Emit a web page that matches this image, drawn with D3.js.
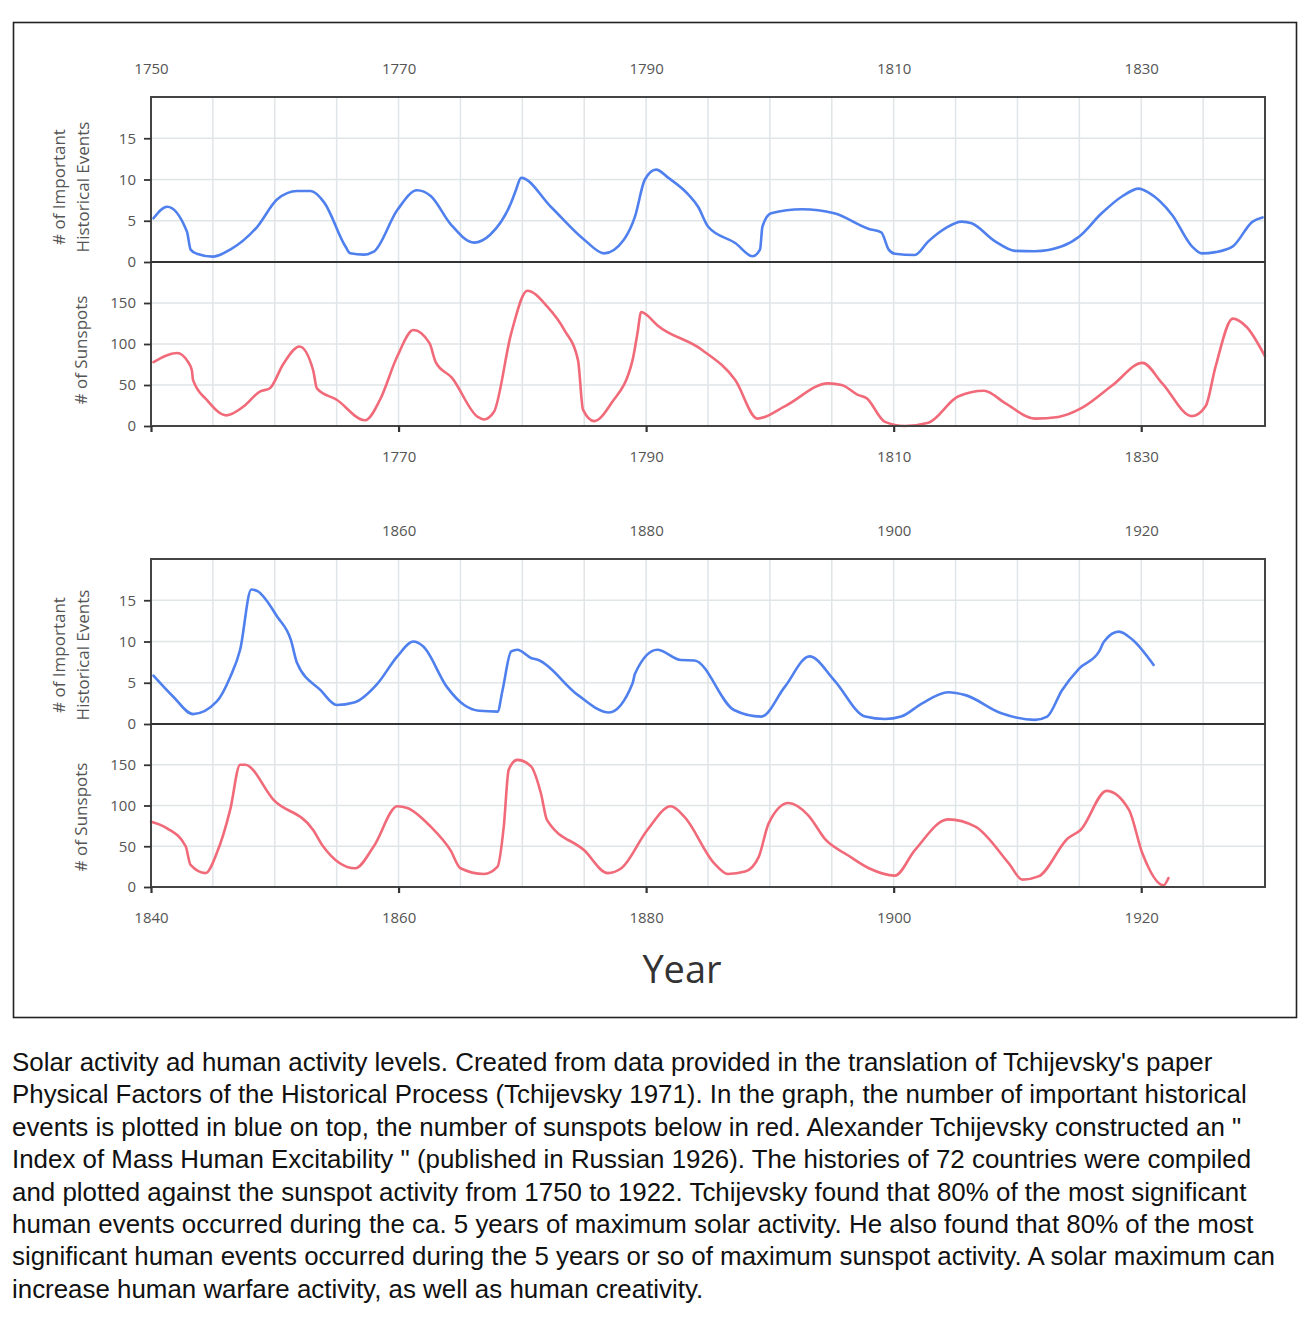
<!DOCTYPE html>
<html>
<head>
<meta charset="utf-8">
<script src="https://cdn.jsdelivr.net/npm/d3@7"></script>
<style>
  html, body { margin: 0; padding: 0; background: #fff; }
  svg { display: block; }
</style>
</head>
<body>
<svg id="chart" width="1308" height="1320"></svg>
<script>
// ---------------- DATA ----------------
// Panel 1 (1750–1840)
const events1Years = [1750.2, 1751.3, 1752.9, 1753.2, 1753.7, 1755, 1756.4, 1758.6, 1760.2, 1761.8, 1762.9, 1764, 1765.7, 1766.1, 1767.2, 1768, 1769.9, 1771.5, 1772.6, 1774.2, 1776.1, 1777.4, 1779.1, 1779.5, 1779.9, 1782.3, 1785, 1786.6, 1788.2, 1789.1, 1789.9, 1790.8, 1791.8, 1793.4, 1794.2, 1795, 1797.2, 1798.6, 1799.2, 1799.4, 1800.1, 1802.6, 1805.2, 1808, 1809, 1809.6, 1810.1, 1811.7, 1812.8, 1814.2, 1815.5, 1816.3, 1818.2, 1819.8, 1821.4, 1823.6, 1825, 1826.8, 1828.5, 1829.8, 1830.6, 1832.5, 1834.1, 1834.9, 1836, 1837.4, 1839, 1839.8];
const events1Values = [5.3, 6.7, 3.7, 1.5, 1.0, 0.65, 1.5, 4.3, 7.6, 8.6, 8.6, 7.2, 1.9, 1.05, 0.9, 1.25, 6.3, 8.7, 8.0, 4.6, 2.35, 3.3, 7.2, 8.8, 10.2, 6.7, 2.7, 1.05, 2.7, 5.5, 10, 11.2, 10.2, 8.2, 6.7, 4.3, 2.3, 0.7, 1.5, 4.3, 5.9, 6.4, 5.9, 4.0, 3.6, 1.5, 1.0, 0.85, 2.5, 4.1, 4.9, 4.7, 2.5, 1.35, 1.3, 1.9, 3.1, 5.9, 8.0, 8.9, 8.4, 5.7, 1.9, 1.05, 1.2, 1.9, 4.9, 5.4];

const sunspots1Years = [1750.2, 1752.1, 1753, 1753.3, 1753.4, 1754.5, 1756.1, 1757.5, 1758.8, 1759.6, 1760.7, 1762, 1763.1, 1763.4, 1765, 1767.3, 1768.5, 1769.9, 1771.2, 1772.5, 1773, 1774.3, 1776.4, 1776.9, 1777.7, 1779.1, 1780.4, 1782, 1783.4, 1784.5, 1784.9, 1785.8, 1787.2, 1788.9, 1789.3, 1789.6, 1789.9, 1790.9, 1794.5, 1797.2, 1799, 1801.2, 1804.7, 1805.8, 1807.1, 1807.8, 1809.3, 1810.9, 1812.8, 1815.2, 1817.3, 1819, 1821.4, 1823.3, 1825.2, 1827.7, 1830.1, 1831.7, 1834.1, 1835.2, 1836, 1837.4, 1838.5, 1840];
const sunspots1Values = [78, 89, 78, 68, 56, 32, 13, 24, 42, 46, 76, 97, 68, 46, 32, 7, 32, 85, 117, 101, 78, 59, 11, 8, 17, 113, 165, 146, 117, 80, 20, 6, 28, 80, 113, 139, 137, 123, 93, 56, 9, 24, 52, 50, 38, 34, 5, 0, 4, 36, 43, 28, 9, 11, 22, 50, 77, 52, 12, 24, 72, 131, 121, 85];

// Panel 2 (1840–1930)
const events2Years = [1840.2, 1841.8, 1843.4, 1845.3, 1846.4, 1847.2, 1848.1, 1848.6, 1850.2, 1851.3, 1851.8, 1853.7, 1855, 1856.4, 1858.3, 1859.9, 1861.2, 1862, 1863.9, 1865.3, 1866.5, 1868, 1868.4, 1869.1, 1869.6, 1870.7, 1871.3, 1874.5, 1877, 1878.9, 1879.1, 1880.9, 1882.8, 1883.9, 1887.1, 1889.3, 1891.2, 1893.2, 1895.2, 1897.7, 1899.3, 1900.6, 1902.3, 1904.4, 1905.8, 1908.7, 1911.4, 1912.4, 1913.6, 1915, 1916.6, 1917, 1918.2, 1919.3, 1921];
const events2Values = [5.85, 3.3, 1.2, 2.7, 5.7, 9, 16.3, 16.1, 13, 10.2, 7.4, 4.1, 2.3, 2.6, 4.9, 8.2, 10, 9.4, 4.5, 2.3, 1.6, 1.5, 4.1, 8.8, 9, 8, 7.75, 3.5, 1.4, 4.9, 6.1, 9, 7.75, 7.7, 1.7, 0.9, 4.5, 8.2, 5.3, 0.9, 0.6, 0.9, 2.5, 3.85, 3.5, 1.3, 0.5, 0.9, 4.1, 6.75, 8.8, 10, 11.2, 10.2, 7.15];

const sunspots2Years = [1840, 1841.3, 1842.8, 1843.2, 1844.4, 1845.3, 1846.4, 1847.2, 1847.6, 1849.9, 1853.1, 1853.9, 1856.5, 1858, 1859.9, 1860.7, 1862.6, 1864.2, 1865, 1866.9, 1868, 1868.5, 1868.9, 1869.6, 1870.7, 1871.5, 1872, 1875, 1876.9, 1878, 1880.1, 1882, 1883.1, 1885.5, 1886.6, 1888, 1889.1, 1889.9, 1891.5, 1893.1, 1894.5, 1896.3, 1898, 1900.1, 1901.7, 1904.4, 1906.6, 1909.3, 1910.4, 1911.7, 1914.1, 1915.1, 1917.2, 1919, 1920.1, 1921.8, 1922.2];
const sunspots2Values = [80, 72, 50, 27, 17, 41, 95, 150, 150, 107, 70, 50, 23, 50, 99, 97, 74, 45, 23, 16, 25, 74, 144, 156, 148, 115, 82, 45, 17, 23, 70, 99, 86, 29, 16, 19, 37, 78, 103, 88, 58, 39, 23, 14, 45, 83, 74, 29, 9, 13, 60, 70, 118, 95, 41, 2, 11];

// Tick labels
const eventTicks = [0, 5, 10, 15];
const sunspotTicks = [0, 50, 100, 150];
const panel1TopLabels = [1750, 1770, 1790, 1810, 1830];
const panel1BottomLabels = [1770, 1790, 1810, 1830];
const panel1BottomTicks = [1750, 1770, 1790, 1810, 1830];
const panel2TopLabels = [1860, 1880, 1900, 1920];
const panel2BottomLabels = [1840, 1860, 1880, 1900, 1920];

const xTitle = "Year";
const eventsTitle = ["# of Important", "Historical Events"];
const sunspotsTitle = "# of Sunspots";

const captionLines = [
  "Solar activity ad human activity levels. Created from data provided in the translation of Tchijevsky's paper",
  "Physical Factors of the Historical Process (Tchijevsky 1971). In the graph, the number of important historical",
  "events is plotted in blue on top, the number of sunspots below in red. Alexander Tchijevsky constructed an \"",
  "Index of Mass Human Excitability \" (published in Russian 1926). The histories of 72 countries were compiled",
  "and plotted against the sunspot activity from 1750 to 1922. Tchijevsky found that 80% of the most significant",
  "human events occurred during the ca. 5 years of maximum solar activity. He also found that 80% of the most",
  "significant human events occurred during the 5 years or so of maximum sunspot activity. A solar maximum can",
  "increase human warfare activity, as well as human creativity."
];

// ---------------- DRAW ----------------
const svg = d3.select("#chart");
const FONT = "'Open Sans', 'Noto Sans', sans-serif";
const BLUE = "#4f80ee";
const RED = "#f16a79";
const GRID = "#e0e5e8";
const FRAME = "#444";
const LABEL = "#555";

// outer frame
svg.append("rect")
  .attr("x", 13.5).attr("y", 22.5).attr("width", 1283).attr("height", 995)
  .attr("fill", "none").attr("stroke", "#222").attr("stroke-width", 1.6);

function drawPanel(cfg) {
  const left = 151, right = 1265;
  const x = d3.scaleLinear().domain(cfg.xDomain).range([left, right]);
  const yE = d3.scaleLinear().domain([0, 20]).range([cfg.mid, cfg.top]);
  const yS = d3.scaleLinear().domain([0, 200]).range([cfg.bottom, cfg.mid]);

  const g = svg.append("g");

  // grid
  const vGrid = d3.range(cfg.xDomain[0] + 5, cfg.xDomain[1], 5);
  g.append("g").selectAll("line").data(vGrid).join("line")
    .attr("x1", d => x(d)).attr("x2", d => x(d))
    .attr("y1", cfg.top).attr("y2", cfg.bottom)
    .attr("stroke", GRID).attr("stroke-width", 1.5);
  g.append("g").selectAll("line").data(eventTicks.slice(1)).join("line")
    .attr("x1", left).attr("x2", right)
    .attr("y1", d => yE(d)).attr("y2", d => yE(d))
    .attr("stroke", GRID).attr("stroke-width", 1.5);
  g.append("g").selectAll("line").data(sunspotTicks.slice(1)).join("line")
    .attr("x1", left).attr("x2", right)
    .attr("y1", d => yS(d)).attr("y2", d => yS(d))
    .attr("stroke", GRID).attr("stroke-width", 1.5);

  // lines
  const lineE = d3.line().x(d => x(d[0])).y(d => yE(d[1])).curve(d3.curveMonotoneX);
  const lineS = d3.line().x(d => x(d[0])).y(d => yS(d[1])).curve(d3.curveMonotoneX);
  g.append("path").datum(d3.zip(cfg.eYears, cfg.eValues))
    .attr("d", lineE).attr("fill", "none").attr("stroke", BLUE)
    .attr("stroke-width", 2.6).attr("stroke-linejoin", "round").attr("stroke-linecap", "round");
  g.append("path").datum(d3.zip(cfg.sYears, cfg.sValues))
    .attr("d", lineS).attr("fill", "none").attr("stroke", RED)
    .attr("stroke-width", 2.6).attr("stroke-linejoin", "round").attr("stroke-linecap", "round");

  // frame and mid line
  g.append("rect").attr("x", left).attr("y", cfg.top)
    .attr("width", right - left).attr("height", cfg.bottom - cfg.top)
    .attr("fill", "none").attr("stroke", FRAME).attr("stroke-width", 2);
  g.append("line").attr("x1", left).attr("x2", right)
    .attr("y1", cfg.mid).attr("y2", cfg.mid)
    .attr("stroke", "#333").attr("stroke-width", 1.8);

  // y axes
  function styleAxis(sel) {
    sel.select(".domain").remove();
    sel.selectAll(".tick line").attr("stroke", "#333").attr("stroke-width", 1.8);
    sel.selectAll(".tick text").attr("fill", LABEL).style("font-family", FONT).style("font-size", "15px");
  }
  g.append("g").attr("transform", `translate(${left},0)`)
    .call(d3.axisLeft(yE).tickValues(eventTicks).tickSize(7).tickPadding(8))
    .call(styleAxis);
  g.append("g").attr("transform", `translate(${left},0)`)
    .call(d3.axisLeft(yS).tickValues(sunspotTicks).tickSize(7).tickPadding(8))
    .call(styleAxis);

  // top x labels
  g.append("g").attr("transform", `translate(0,${cfg.top})`)
    .call(d3.axisTop(x).tickValues(cfg.topLabels).tickSize(0).tickPadding(23).tickFormat(d3.format("d")))
    .call(styleAxis);
  // bottom ticks
  const bt = g.append("g").attr("transform", `translate(0,${cfg.bottom})`)
    .call(d3.axisBottom(x).tickValues(cfg.bottomTicks).tickSize(6).tickPadding(19).tickFormat(d => cfg.bottomLabels.includes(d) ? d3.format("d")(d) : ""))
    .call(styleAxis);
  bt.selectAll(".tick line").attr("stroke-width", 2.2);

  // y titles
  g.append("text").attr("transform", `translate(65,${cfg.eCenter}) rotate(-90)`)
    .attr("text-anchor", "middle").attr("fill", LABEL)
    .style("font-family", FONT).style("font-size", "17px").text(eventsTitle[0]);
  g.append("text").attr("transform", `translate(89,${cfg.eCenter}) rotate(-90)`)
    .attr("text-anchor", "middle").attr("fill", LABEL)
    .style("font-family", FONT).style("font-size", "17px").text(eventsTitle[1]);
  g.append("text").attr("transform", `translate(87,${cfg.sCenter}) rotate(-90)`)
    .attr("text-anchor", "middle").attr("fill", LABEL)
    .style("font-family", FONT).style("font-size", "17px").text(sunspotsTitle);
}

drawPanel({
  xDomain: [1750, 1840], top: 97, mid: 262, bottom: 426,
  eYears: events1Years, eValues: events1Values,
  sYears: sunspots1Years, sValues: sunspots1Values,
  topLabels: panel1TopLabels, bottomLabels: panel1BottomLabels, bottomTicks: panel1BottomTicks,
  eCenter: 187, sCenter: 350
});
drawPanel({
  xDomain: [1840, 1930], top: 559, mid: 724, bottom: 887,
  eYears: events2Years, eValues: events2Values,
  sYears: sunspots2Years, sValues: sunspots2Values,
  topLabels: panel2TopLabels, bottomLabels: panel2BottomLabels, bottomTicks: panel2BottomLabels,
  eCenter: 655, sCenter: 817
});

// x title
svg.append("text").attr("x", 682).attr("y", 983).attr("text-anchor", "middle")
  .attr("fill", "#333").style("font-family", FONT).style("font-size", "38px").text(xTitle);

// caption
svg.append("g").selectAll("text").data(captionLines).join("text")
  .attr("x", 12).attr("y", (d, i) => 1071 + i * 32.4)
  .attr("fill", "#111")
  .style("font-family", "'Liberation Sans', Arial, Helvetica, sans-serif")
  .style("font-size", "25.9px")
  .text(d => d);
</script>
</body>
</html>
